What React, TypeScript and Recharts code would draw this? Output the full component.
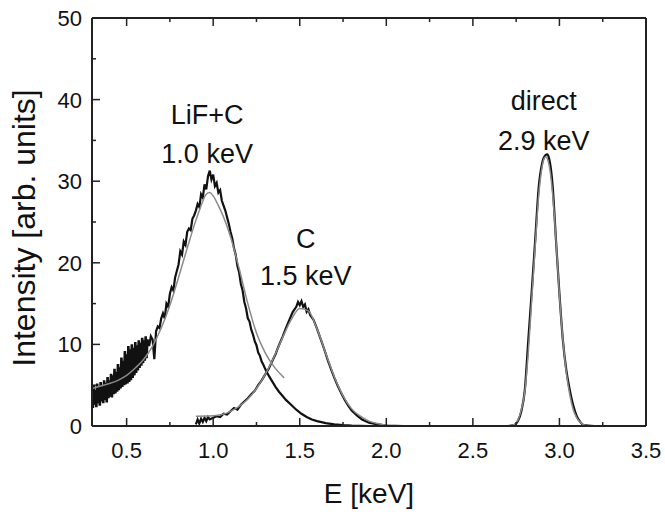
import { LineChart, Line, XAxis, YAxis, ReferenceDot } from 'recharts'

// [E keV, intensity] - low energy noisy tail of the LiF+C spectrum
const lifTail: [number, number][] = [
  [0.3, 4.6], [0.305, 2.2], [0.31, 5.0], [0.315, 2.6], [0.32, 4.4], [0.325, 2.3], [0.33, 5.2], [0.335, 2.8],
  [0.34, 4.8], [0.345, 2.5], [0.35, 5.4], [0.355, 3.0], [0.36, 5.0], [0.365, 2.8], [0.37, 5.6], [0.375, 3.2],
  [0.38, 5.3], [0.385, 2.9], [0.39, 6.0], [0.395, 3.4], [0.4, 5.6], [0.405, 3.6], [0.41, 6.4], [0.415, 3.5],
  [0.42, 6.2], [0.425, 3.9], [0.43, 7.0], [0.435, 4.0], [0.44, 6.6], [0.445, 4.2], [0.45, 7.6], [0.455, 4.4],
  [0.46, 7.2], [0.465, 4.6], [0.47, 8.4], [0.475, 4.8], [0.48, 8.0], [0.485, 5.0], [0.49, 9.2], [0.495, 5.1],
  [0.5, 8.8], [0.505, 5.2], [0.51, 9.8], [0.515, 5.4], [0.52, 9.4], [0.525, 5.6], [0.53, 10.0], [0.535, 5.9],
  [0.54, 9.6], [0.545, 6.2], [0.55, 10.3], [0.555, 6.5], [0.56, 9.9], [0.565, 6.8], [0.57, 10.5], [0.575, 7.1],
  [0.58, 10.2], [0.585, 7.4], [0.59, 10.8], [0.595, 7.7], [0.6, 10.5], [0.605, 8.0], [0.61, 11.0], [0.615, 8.3],
  [0.62, 10.6],
]

const lifMeasured: [number, number][] = [
  [0.62, 10.6], [0.63, 9.8], [0.64, 11.0], [0.65, 10.6], [0.66, 8.2], [0.67, 11.6], [0.68, 12.2],
  [0.69, 12.0], [0.7, 13.2], [0.71, 13.8], [0.72, 13.2], [0.73, 15.0], [0.74, 14.6], [0.75, 16.2], [0.76, 17.0],
  [0.77, 16.6], [0.78, 18.2], [0.79, 19.0], [0.8, 19.8], [0.81, 21.4], [0.82, 21.0], [0.83, 22.6], [0.84, 22.2],
  [0.85, 23.8], [0.86, 24.2], [0.87, 24.0], [0.88, 25.4], [0.89, 25.8], [0.9, 26.4], [0.91, 27.2], [0.92, 26.8],
  [0.93, 28.4], [0.94, 28.0], [0.95, 29.6], [0.96, 29.0], [0.97, 30.6], [0.98, 31.3], [0.99, 30.2], [1.0, 30.8],
  [1.01, 29.4], [1.02, 29.8], [1.03, 28.6], [1.04, 28.9], [1.05, 27.6], [1.06, 27.0], [1.07, 26.4], [1.08, 25.6],
  [1.09, 24.8], [1.1, 23.8], [1.11, 23.0], [1.12, 21.8], [1.13, 21.0], [1.14, 19.6], [1.15, 18.8], [1.16, 17.4],
  [1.17, 16.6], [1.18, 15.2], [1.19, 14.4], [1.2, 13.2], [1.21, 12.8], [1.22, 11.8], [1.23, 11.2], [1.24, 10.4],
  [1.25, 9.9], [1.26, 9.0], [1.27, 8.6], [1.28, 7.9], [1.29, 7.5], [1.3, 7.0], [1.32, 6.2], [1.34, 5.5],
  [1.36, 4.8], [1.38, 4.2], [1.4, 3.7], [1.42, 3.2], [1.45, 2.6], [1.48, 2.0], [1.51, 1.5], [1.54, 1.1],
  [1.57, 0.8], [1.6, 0.6], [1.65, 0.35], [1.7, 0.2], [1.75, 0.1], [1.8, 0.05], [1.9, 0], [2.0, 0],
]

const lifFit: [number, number][] = [
  [0.3, 4.6], [0.35, 4.9], [0.4, 5.2], [0.45, 5.6], [0.5, 6.2], [0.55, 7.1], [0.6, 8.2], [0.65, 9.8],
  [0.7, 12.0], [0.75, 14.8], [0.8, 18.2], [0.85, 21.8], [0.9, 25.2], [0.93, 27.0], [0.96, 28.4], [0.98, 28.6],
  [1.0, 28.2], [1.03, 27.0], [1.06, 25.6], [1.1, 23.2], [1.15, 19.3], [1.2, 15.0], [1.25, 11.4], [1.3, 9.0],
  [1.35, 7.3], [1.41, 5.9],
]

const cMeasured: [number, number][] = [
  [0.9, 0.2], [0.91, 0.8], [0.92, 0.3], [0.93, 0.9], [0.94, 0.5], [0.95, 1.0], [0.96, 0.6], [0.97, 1.1],
  [0.98, 0.8], [1.0, 1.0], [1.02, 1.2], [1.04, 1.1], [1.06, 1.5], [1.08, 1.4], [1.1, 1.8], [1.12, 2.2],
  [1.14, 2.0], [1.16, 2.6], [1.18, 3.0], [1.2, 3.4], [1.22, 3.9], [1.24, 4.3], [1.26, 5.0], [1.28, 5.6],
  [1.3, 6.3], [1.32, 7.0], [1.34, 7.9], [1.36, 8.8], [1.38, 9.9], [1.4, 10.9], [1.42, 12.0], [1.44, 13.0],
  [1.46, 14.0], [1.48, 14.6], [1.49, 15.2], [1.5, 14.8], [1.51, 15.3], [1.52, 14.6], [1.53, 14.9], [1.54, 14.0],
  [1.55, 14.3], [1.56, 13.6], [1.58, 13.0], [1.6, 11.9], [1.62, 10.7], [1.64, 9.5], [1.66, 8.2], [1.68, 7.0],
  [1.7, 5.9], [1.72, 4.9], [1.74, 4.0], [1.76, 3.2], [1.78, 2.5], [1.8, 1.9], [1.83, 1.3], [1.86, 0.8],
  [1.9, 0.4], [1.95, 0.2], [2.0, 0.05], [2.1, 0],
]

const cFit: [number, number][] = [
  [0.9, 1.2], [1.0, 1.25], [1.05, 1.4], [1.1, 1.8], [1.15, 2.4], [1.2, 3.3], [1.25, 4.6], [1.3, 6.3],
  [1.35, 8.4], [1.4, 10.8], [1.45, 13.0], [1.5, 14.4], [1.55, 14.1], [1.6, 11.9], [1.65, 8.9], [1.7, 6.0],
  [1.75, 3.7], [1.8, 2.1], [1.85, 1.2], [1.9, 0.6], [1.95, 0.3], [2.0, 0.1], [2.05, 0],
]

const directMeasured: [number, number][] = [
  [1.95, 0], [2.7, 0], [2.74, 0.1], [2.76, 0.6], [2.78, 1.8], [2.8, 4.4], [2.82, 10.5], [2.84, 16.5],
  [2.86, 22.8], [2.88, 29.2], [2.9, 32.2], [2.92, 33.2], [2.93, 33.3], [2.94, 32.8], [2.96, 29.6], [2.98, 22.8],
  [3.0, 16.2], [3.02, 10.5], [3.04, 6.8], [3.06, 4.4], [3.08, 2.5], [3.1, 1.2], [3.12, 0.5], [3.14, 0.1],
  [3.2, 0],
]

const directFit: [number, number][] = [
  [2.72, 0], [2.75, 0.4], [2.78, 2.0], [2.8, 4.2], [2.82, 9.0], [2.84, 15.5], [2.86, 22.0], [2.88, 28.2],
  [2.9, 31.8], [2.92, 33.0], [2.94, 32.0], [2.96, 28.6], [2.98, 22.8], [3.0, 16.0], [3.02, 10.6], [3.04, 6.5],
  [3.06, 3.8], [3.08, 2.0], [3.1, 1.0], [3.13, 0.3], [3.16, 0],
]

const xTicks = [0.5, 0.75, 1.0, 1.25, 1.5, 1.75, 2.0, 2.25, 2.5, 2.75, 3.0, 3.25, 3.5]
const xMajor = [0.5, 1.0, 1.5, 2.0, 2.5, 3.0, 3.5]
const yTicks = [0, 5, 10, 15, 20, 25, 30, 35, 40, 45, 50]
const yMajor = [0, 10, 20, 30, 40, 50]

const peakLabels = [
  { e: 0.965, i: 38.2, text: 'LiF+C' },
  { e: 0.965, i: 33.4, text: '1.0 keV' },
  { e: 1.535, i: 23.0, text: 'C' },
  { e: 1.535, i: 18.4, text: '1.5 keV' },
  { e: 2.91, i: 39.9, text: 'direct' },
  { e: 2.91, i: 35.0, text: '2.9 keV' },
]

const FONT = '"Liberation Sans", Arial, Helvetica, sans-serif'
const PLOT = { left: 92, right: 646, top: 18, bottom: 426 }
const MAJOR = 8
const MINOR = 4

const toPts = (arr: [number, number][]) => arr.map(([e, i]) => ({ e, i }))
const isMajor = (list: number[], v: number) => list.some(m => Math.abs(m - v) < 1e-6)

function BottomTick(props: any) {
  const { x, payload } = props
  const major = isMajor(xMajor, payload.value)
  return (
    <g>
      <line x1={x} x2={x} y1={PLOT.bottom} y2={PLOT.bottom - (major ? MAJOR : MINOR)} stroke="#222" strokeWidth={1.5} />
      {major && (
        <text x={x} y={PLOT.bottom + 32} textAnchor="middle" fontSize={22} fontFamily={FONT} fill="#111">
          {payload.value.toFixed(1)}
        </text>
      )}
    </g>
  )
}

function TopTick(props: any) {
  const { x, payload } = props
  const major = isMajor(xMajor, payload.value)
  return (
    <line x1={x} x2={x} y1={PLOT.top} y2={PLOT.top + (major ? MAJOR : MINOR)} stroke="#222" strokeWidth={1.5} />
  )
}

function LeftTick(props: any) {
  const { y, payload } = props
  const major = isMajor(yMajor, payload.value)
  return (
    <g>
      <line x1={PLOT.left} x2={PLOT.left + (major ? MAJOR : MINOR)} y1={y} y2={y} stroke="#222" strokeWidth={1.5} />
      {major && (
        <text x={PLOT.left - 10} y={y + 8} textAnchor="end" fontSize={22} fontFamily={FONT} fill="#111">
          {payload.value}
        </text>
      )}
    </g>
  )
}

function RightTick(props: any) {
  const { y, payload } = props
  const major = isMajor(yMajor, payload.value)
  return (
    <line x1={PLOT.right} x2={PLOT.right - (major ? MAJOR : MINOR)} y1={y} y2={y} stroke="#222" strokeWidth={1.5} />
  )
}

function YTitle() {
  return (
    <text transform="translate(35,228) rotate(-90)" textAnchor="middle" fontSize={32} fontFamily={FONT} fill="#111">
      Intensity [arb. units]
    </text>
  )
}

export default function App() {
  const axisLine = { stroke: '#222', strokeWidth: 2 }
  const dataLine = { stroke: '#111', strokeWidth: 2.2, dot: false, isAnimationActive: false, xAxisId: 'b', yAxisId: 'l', dataKey: 'i' }
  const fitLine = { stroke: '#8a8a8a', strokeWidth: 1.5, dot: false, isAnimationActive: false, xAxisId: 'b', yAxisId: 'l', dataKey: 'i' }
  return (
    <div style={{ position: 'absolute', left: 0, top: 0, background: '#fff' }}>
      <LineChart width={665} height={515} margin={{ top: 17, right: 18, bottom: 0, left: 0 }}>
        <XAxis
          xAxisId="b"
          dataKey="e"
          type="number"
          domain={[0.3, 3.5]}
          ticks={xTicks}
          interval={0}
          allowDataOverflow
          height={89}
          axisLine={axisLine}
          tickLine={false}
          tick={<BottomTick />}
          label={{ value: 'E [keV]', position: 'insideBottom', offset: 12, fontSize: 28, fontFamily: FONT, fill: '#111' }}
        />
        <XAxis
          xAxisId="t"
          orientation="top"
          dataKey="e"
          type="number"
          domain={[0.3, 3.5]}
          ticks={xTicks}
          interval={0}
          allowDataOverflow
          height={1}
          axisLine={axisLine}
          tickLine={false}
          tick={<TopTick />}
        />
        <YAxis
          yAxisId="l"
          type="number"
          domain={[0, 50]}
          ticks={yTicks}
          interval={0}
          width={92}
          axisLine={axisLine}
          tickLine={false}
          tick={<LeftTick />}
          label={{ content: () => <YTitle /> }}
        />
        <YAxis
          yAxisId="r"
          orientation="right"
          type="number"
          domain={[0, 50]}
          ticks={yTicks}
          interval={0}
          width={1}
          axisLine={axisLine}
          tickLine={false}
          tick={<RightTick />}
        />
        <Line {...dataLine} data={toPts(lifTail)} type="linear" strokeWidth={2.6} />
        <Line {...dataLine} data={toPts(lifMeasured)} type="linear" />
        <Line {...dataLine} data={toPts(cMeasured)} type="linear" />
        <Line {...dataLine} data={toPts(directMeasured)} type="monotone" />
        <Line {...fitLine} data={toPts(lifFit)} type="monotone" />
        <Line {...fitLine} data={toPts(cFit)} type="monotone" />
        <Line {...fitLine} data={toPts(directFit)} type="monotone" />
        {peakLabels.map(p => (
          <ReferenceDot
            key={p.text}
            xAxisId="b"
            yAxisId="l"
            x={p.e}
            y={p.i}
            r={0}
            stroke="none"
            fill="none"
            label={{ value: p.text, position: 'center', fontSize: 27, fontFamily: FONT, fill: '#111' }}
          />
        ))}
      </LineChart>
    </div>
  )
}
